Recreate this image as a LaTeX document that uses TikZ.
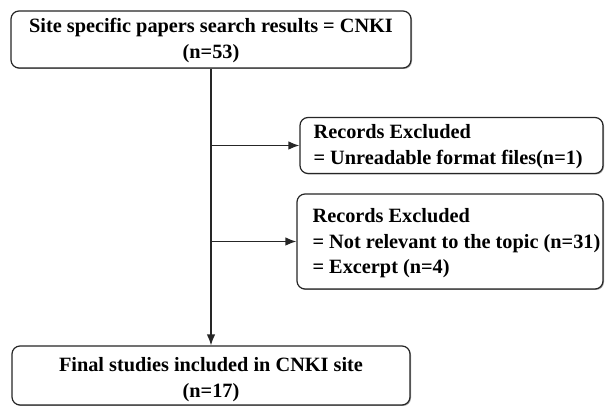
\documentclass[tikz,border=0pt]{standalone}
\usepackage{fontspec}
\setmainfont{Liberation Serif}
\usetikzlibrary{arrows.meta,shadows}
\tikzset{
  flowbox/.style={draw=black!85, line width=1.2pt, rounded corners=8pt, fill=white,
    drop shadow={shadow xshift=1pt, shadow yshift=-1pt, fill=black!45, opacity=0.8},
    inner sep=0pt},
  boxtext/.style={font=\fontsize{20.3}{25.5}\selectfont\bfseries, inner sep=0pt},
  centertext/.style={boxtext, align=center},
  sidetext/.style={boxtext, align=left, anchor=west},
  flowline/.style={draw=black!85, line width=1.3pt},
  flowarrow/.style={flowline, -{Latex[length=11pt,width=8.5pt]}}
}
\begin{document}
\begin{tikzpicture}[x=1pt,y=-1pt]
  \useasboundingbox (0,0) rectangle (606,406);
  % main column
  \node[flowbox, minimum width=400pt, minimum height=57pt] (search) at (211,39.5) {};
  \node[centertext] (searchtext) at ([yshift=-1pt]search.center)
    {Site specific papers search results = CNKI\\[1pt](n=53)};
  \node[flowbox, minimum width=398pt, minimum height=59pt] (final) at (211,375.5) {};
  \node[centertext] (finaltext) at ([yshift=-4pt]final.center)
    {Final studies included in CNKI site\\(n=17)};
  % exclusion boxes and their texts
  \node[flowbox, minimum width=303pt, minimum height=56pt] (excl1) at (451.5,145.5) {};
  \node[sidetext] (excl1text) at ([xshift=14pt,yshift=-1pt]excl1.west)
    {Records Excluded\\= Unreadable format files(n=1)};
  \node[flowbox, minimum width=306pt, minimum height=95pt] (excl2) at (450,241.5) {};
  \node[sidetext] (excl2text) at ([xshift=16pt,yshift=-2pt]excl2.west)
    {Records Excluded\\= Not relevant to the topic (n=31)\\= Excerpt (n=4)};
  % connectors
  \draw[flowarrow] (search.south) -- (final.north);
  \draw[flowarrow] (search.south |- excl1.west) -- (excl1.west);
  \draw[flowarrow] (search.south |- excl2.west) -- (excl2.west);
\end{tikzpicture}
\end{document}
